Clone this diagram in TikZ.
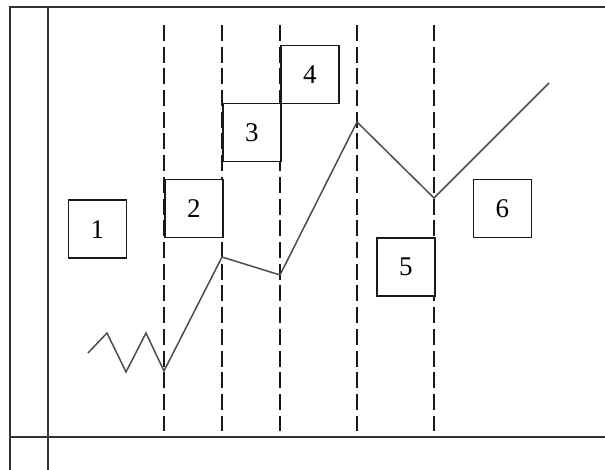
\documentclass[tikz,border=0pt]{standalone}
\usepackage{fontspec}
\setmainfont{Liberation Serif}
\begin{document}
\begin{tikzpicture}[x=1pt,y=-1pt,
  frameline/.style={draw=black!80,line width=2pt},
  guide/.style={draw=black!90,line width=1.6pt,dash pattern=on 16pt off 5.7pt},
  numbox/.style={draw=black!90,line width=1.5pt,fill=white,minimum width=58pt,minimum height=58pt,inner sep=0pt,font=\fontsize{27}{27}\selectfont,anchor=north west},
  trend/.style={draw=black!70,line width=1.5pt,line join=miter}]
\useasboundingbox (0,0) rectangle (605,470);
% frame
\coordinate (tl) at (10,7);
\coordinate (tr) at (605,7);
\coordinate (bl) at (10,470);
\coordinate (il) at (48,7);
\coordinate (ib) at (48,470);
\coordinate (hl) at (10,437);
\coordinate (hr) at (605,437);
\draw[frameline] (bl) -- (tl) -- (tr);
\draw[frameline] (il) -- (ib);
\draw[frameline] (hl) -- (hr);
% dashed guides
\foreach \n/\x in {a/164,b/222,c/280,d/357,e/434}{
  \coordinate (\n top) at (\x,25);
  \coordinate (\n bot) at (\x,431);
  \draw[guide] (\n top) -- (\n bot);
}
% trend line
\coordinate (p0) at (88,353);
\coordinate (p1) at (107,333);
\coordinate (p2) at (126,372);
\coordinate (p3) at (146,333);
\coordinate (p4) at (164,371);
\coordinate (p5) at (222,257);
\coordinate (p6) at (280,275);
\coordinate (p7) at (357,122);
\coordinate (p8) at (434,198);
\coordinate (p9) at (549,83);
\draw[trend] (p0) -- (p1) -- (p2) -- (p3) -- (p4) -- (p5) -- (p6) -- (p7) -- (p8) -- (p9);
% boxes
\node[numbox] (b1) at (67.5,199.5) {1};
\node[numbox] (b2) at (164,179) {2};
\node[numbox] (b3) at (222,103) {3};
\node[numbox] (b4) at (280,45) {4};
\node[numbox] (b5) at (376,237.5) {5};
\node[numbox] (b6) at (472.5,179) {6};
\end{tikzpicture}
\end{document}
